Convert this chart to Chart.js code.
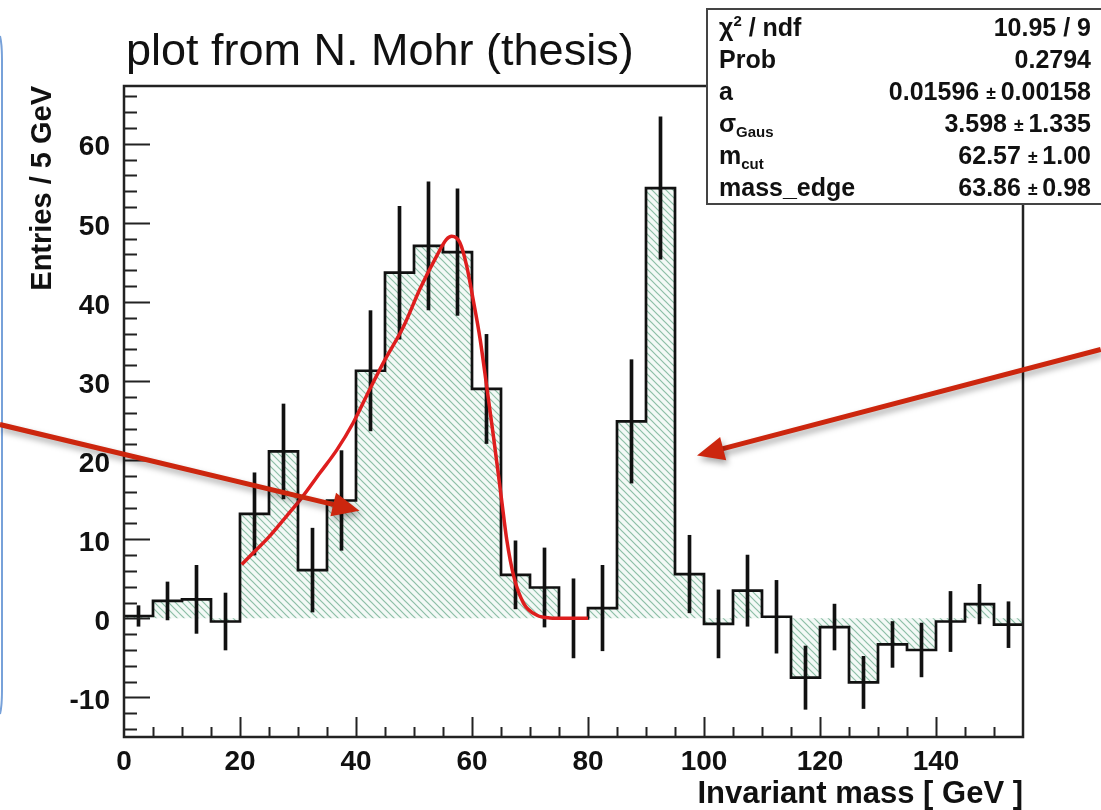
<!DOCTYPE html>
<html>
<head>
<meta charset="utf-8">
<script src="https://cdn.jsdelivr.net/npm/chart.js@4.4.1/dist/chart.umd.min.js"></script>
<style>
  html, body { margin: 0; padding: 0; background: #fff; }
  #wrap { width: 1101px; height: 810px; }
</style>
</head>
<body>
<div id="wrap"><canvas id="massChart"></canvas></div>
<script>
var FONT = '"Liberation Sans", Arial, Helvetica, sans-serif';

// histogram: 5 GeV bins from 0 to 155 GeV
var binEdges = [0, 5, 10, 15, 20, 25, 30, 35, 40, 45, 50, 55, 60, 65, 70, 75, 80,
  85, 90, 95, 100, 105, 110, 115, 120, 125, 130, 135, 140, 145, 150, 155];
var entries = [0.3, 2.2, 2.4, -0.4, 13.2, 21.1, 6.1, 14.9, 31.3, 43.7, 47.1, 46.3,
  29.0, 5.5, 3.9, 0.0, 1.3, 24.9, 54.4, 5.6, -0.7, 3.5, 0.2, -7.5, -1.1, -8.1,
  -3.3, -4.0, -0.4, 1.8, -0.8];
var entryErrors = [1.3, 2.4, 4.3, 3.6, 5.2, 6.0, 5.3, 6.3, 7.6, 8.4, 8.1, 8.0,
  6.9, 4.3, 5.0, 5.0, 5.4, 7.8, 9.0, 4.9, 4.3, 4.5, 4.6, 4.0, 2.9, 3.3, 2.9, 3.4,
  3.8, 2.5, 2.9];

// fitted edge function (red curve)
var fitMass = [20.3, 22.3, 25, 28, 30.6, 33.8, 36.7, 39.5, 42.4, 45, 48.2, 51,
  53.9, 55.6, 56.5, 57.9, 59.1, 60.2, 61.4, 62.5, 63.7, 65.1, 66, 67.2, 68.9,
  71.2, 73.4, 76, 80];
var fitValue = [6.8, 8.3, 10.3, 12.9, 15.2, 18.4, 21.3, 24.7, 29.0, 32.7, 36.9,
  41.6, 45.8, 47.9, 48.3, 47.5, 44.5, 40.3, 35.3, 29.5, 23.0, 15.0, 9.9, 5.3,
  1.9, 0.4, 0.05, 0, 0];

var xTickValues = [0, 20, 40, 60, 80, 100, 120, 140];
var yTickValues = [-10, 0, 10, 20, 30, 40, 50, 60];

// fit statistics box
var statNames = ['χ^{2} / ndf', 'Prob', 'a', 'σ_{Gaus}', 'm_{cut}', 'mass_edge'];
var statValues = ['10.95 / 9', '0.2794', '0.01596 ± 0.00158', '3.598 ± 1.335',
  '62.57 ± 1.00', '63.86 ± 0.98'];

var histPoints = binEdges.map(function (x, i) {
  return { x: x, y: entries[Math.min(i, entries.length - 1)] };
});
var errorPoints = entries.map(function (v, i) {
  return { x: (binEdges[i] + binEdges[i + 1]) / 2, y: [v - entryErrors[i], v + entryErrors[i]] };
});
var fitPoints = fitMass.map(function (x, i) {
  return { x: x, y: fitValue[i] };
});

// diagonal hatching like ROOT fill style 3005
function makeHatch() {
  var c = document.createElement('canvas');
  c.width = 7; c.height = 7;
  var g = c.getContext('2d');
  g.fillStyle = 'rgb(243,249,246)';
  g.fillRect(0, 0, 7, 7);
  g.strokeStyle = 'rgb(140,190,166)';
  g.lineWidth = 1.2;
  g.beginPath();
  g.moveTo(-1, -1); g.lineTo(8, 8);
  g.moveTo(-1, 6); g.lineTo(1, 8);
  g.moveTo(6, -1); g.lineTo(8, 1);
  g.stroke();
  return g.createPattern(c, 'repeat');
}

function drawLatex(ctx, text, x, y, size) {
  text.split(/([\^_]\{[^}]*\})/).forEach(function (p) {
    if (!p) return;
    var fs = size, dy = 0;
    if (p[0] === '^' || p[0] === '_') {
      fs = size * 0.6;
      dy = p[0] === '^' ? -size * 0.3 : size * 0.3;
      p = p.slice(2, -1);
    }
    ctx.font = 'bold ' + fs + 'px ' + FONT;
    ctx.fillText(p, x, y + dy);
    x += ctx.measureText(p).width;
  });
}

function drawValue(ctx, text, right, y, size) {
  var parts = text.split(' ± ');
  ctx.textAlign = 'left';
  var big = 'bold ' + size + 'px ' + FONT;
  var small = 'bold ' + (size * 0.7) + 'px ' + FONT;
  if (parts.length === 1) {
    ctx.font = big;
    ctx.fillText(text, right - ctx.measureText(text).width, y);
    return;
  }
  ctx.font = big;
  var wb = ctx.measureText(parts[1]).width;
  var wa = ctx.measureText(parts[0] + ' ').width;
  ctx.font = small;
  var wp = ctx.measureText('± ').width;
  var x = right - wb - wp - wa;
  ctx.font = big;
  ctx.fillText(parts[0] + ' ', x, y);
  ctx.font = small;
  ctx.fillText('± ', x + wa, y + 1);
  ctx.font = big;
  ctx.fillText(parts[1], x + wa + wp, y);
}

function arrow(ctx, x0, y0, x1, y1) {
  var ang = Math.atan2(y1 - y0, x1 - x0);
  var len = 27, half = 12;
  var bx = x1 - len * Math.cos(ang), by = y1 - len * Math.sin(ang);
  ctx.beginPath();
  ctx.moveTo(x0, y0);
  ctx.lineTo(bx + 4 * Math.cos(ang), by + 4 * Math.sin(ang));
  ctx.stroke();
  ctx.beginPath();
  ctx.moveTo(x1, y1);
  ctx.lineTo(bx - half * Math.sin(ang), by + half * Math.cos(ang));
  ctx.lineTo(bx + half * Math.sin(ang), by - half * Math.cos(ang));
  ctx.closePath();
  ctx.fill();
}

// frame with inward ticks, stats box, annotations
var rootStyle = {
  id: 'rootStyle',
  afterDraw: function (chart) {
    var ctx = chart.ctx, a = chart.chartArea;
    var xs = chart.scales.x, ys = chart.scales.y;
    ctx.save();
    ctx.strokeStyle = '#222';
    ctx.lineWidth = 2;
    ctx.beginPath();
    var v, p, len;
    for (v = -14; v <= 66; v += 2) {
      p = Math.round(ys.getPixelForValue(v)) + 0.5;
      len = v % 10 === 0 ? 26 : 13;
      ctx.moveTo(a.left, p); ctx.lineTo(a.left + len, p);
    }
    for (v = 5; v < 155; v += 5) {
      p = Math.round(xs.getPixelForValue(v)) + 0.5;
      len = v % 20 === 0 ? 20 : 10;
      ctx.moveTo(p, a.bottom); ctx.lineTo(p, a.bottom - len);
    }
    ctx.stroke();
    ctx.lineWidth = 2.5;
    ctx.strokeRect(a.left, a.top, a.right - a.left, a.bottom - a.top);

    // title
    ctx.fillStyle = '#111';
    ctx.font = '45px ' + FONT;
    ctx.textAlign = 'left';
    ctx.textBaseline = 'alphabetic';
    ctx.fillText('plot from N. Mohr (thesis)', 126, 65);

    // stats box
    ctx.fillStyle = '#fff';
    ctx.fillRect(707, 9, 400, 195);
    ctx.strokeStyle = '#444';
    ctx.lineWidth = 2;
    ctx.strokeRect(707, 9, 400, 195);
    ctx.fillStyle = '#111';
    ctx.textBaseline = 'middle';
    statNames.forEach(function (name, i) {
      var y = 29 + i * 32;
      ctx.textAlign = 'left';
      drawLatex(ctx, name, 719, y, 25);
      drawValue(ctx, statValues[i], 1091, y, 25);
    });

    // slide edge on the left
    ctx.strokeStyle = 'rgba(95,145,210,0.85)';
    ctx.lineWidth = 2;
    ctx.beginPath();
    ctx.moveTo(0, 36);
    ctx.quadraticCurveTo(2, 44, 2, 60);
    ctx.lineTo(2, 690);
    ctx.quadraticCurveTo(2, 706, 0, 714);
    ctx.stroke();

    // red arrows pointing at the two structures
    ctx.strokeStyle = 'rgb(204,38,14)';
    ctx.fillStyle = 'rgb(204,38,14)';
    ctx.lineWidth = 5;
    ctx.shadowColor = 'rgba(0,0,0,0.35)';
    ctx.shadowBlur = 6;
    ctx.shadowOffsetX = 2;
    ctx.shadowOffsetY = 4;
    arrow(ctx, xs.getPixelForValue(-21.4), ys.getPixelForValue(24.5),
      xs.getPixelForValue(40.6), ys.getPixelForValue(13.6));
    arrow(ctx, xs.getPixelForValue(168.4), ys.getPixelForValue(34.0),
      xs.getPixelForValue(98.8), ys.getPixelForValue(20.6));
    ctx.restore();
  }
};

new Chart(document.getElementById('massChart'), {
  type: 'line',
  data: {
    datasets: [
      {
        data: fitPoints,
        borderColor: 'rgb(222,30,30)',
        borderWidth: 3.5,
        pointRadius: 0,
        cubicInterpolationMode: 'monotone',
        fill: false
      },
      {
        type: 'bar',
        data: errorPoints,
        backgroundColor: '#111',
        borderWidth: 0,
        barThickness: 3,
        grouped: false
      },
      {
        data: histPoints,
        stepped: 'before',
        borderColor: '#111',
        borderWidth: 2.7,
        pointRadius: 0,
        fill: { value: 0 },
        backgroundColor: makeHatch()
      }
    ]
  },
  options: {
    responsive: true,
    maintainAspectRatio: false,
    animation: false,
    layout: { padding: { top: 86, right: 78, left: 0, bottom: 0 } },
    plugins: { legend: { display: false }, tooltip: { enabled: false } },
    scales: {
      x: {
        type: 'linear',
        min: 0,
        max: 155,
        offset: false,
        grid: { display: false },
        border: { display: false },
        afterBuildTicks: function (s) { s.ticks = xTickValues.map(function (v) { return { value: v }; }); },
        afterFit: function (s) { s.height = 73; },
        ticks: {
          autoSkip: false,
          maxRotation: 0,
          padding: 0,
          color: '#111',
          font: { family: FONT, size: 28, weight: 'bold' }
        },
        title: {
          display: true,
          text: 'Invariant mass [ GeV ]',
          align: 'end',
          color: '#111',
          padding: { top: 0, bottom: -3 },
          font: { family: FONT, size: 31, weight: 'bold' }
        }
      },
      y: {
        type: 'linear',
        min: -15,
        max: 67.3,
        grid: { display: false },
        border: { display: false },
        afterBuildTicks: function (s) { s.ticks = yTickValues.map(function (v) { return { value: v }; }); },
        afterFit: function (s) { s.width = 124; },
        ticks: {
          padding: 6,
          labelOffset: 4,
          color: '#111',
          font: { family: FONT, size: 28, weight: 'bold' }
        },
        title: {
          display: true,
          text: 'Entries / 5 GeV',
          align: 'end',
          color: '#111',
          padding: { top: 26, bottom: 0 },
          font: { family: FONT, size: 29, weight: 'bold' }
        }
      }
    }
  },
  plugins: [rootStyle]
});
</script>
</body>
</html>
